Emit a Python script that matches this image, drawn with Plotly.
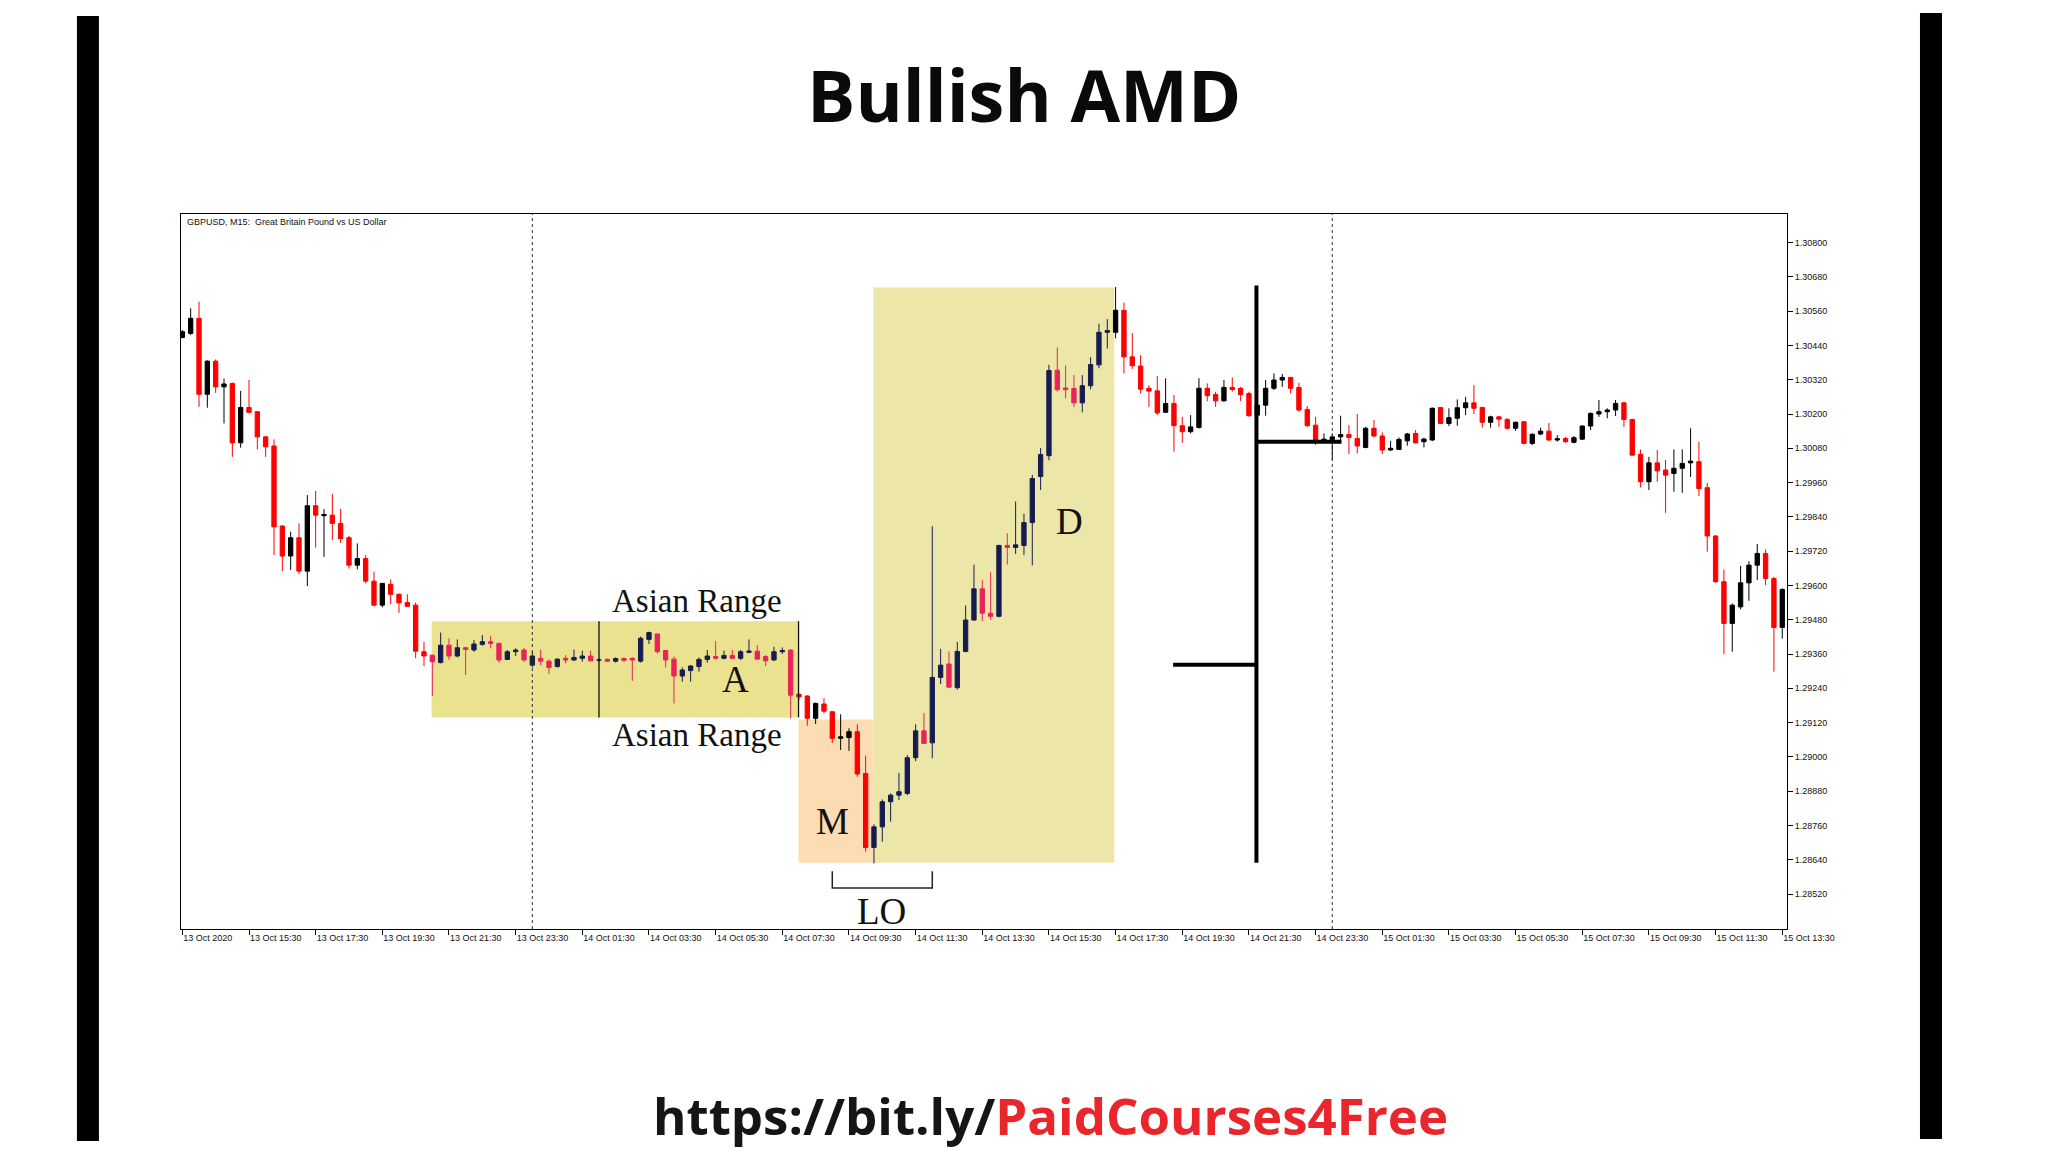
import plotly.graph_objects as go

# ---------------- data (GBPUSD M15, 13 Oct 13:30 -> 15 Oct 13:30) ----------------
opens = [
1.30468,1.30482,1.30535,1.30269,1.30385,1.30295,1.30307,1.30099,1.30223,1.30208,
1.30120,1.30088,1.29808,1.29703,1.29767,1.29650,1.29879,1.29844,1.29846,1.29817,
1.29767,1.29671,1.29694,1.29615,1.29531,1.29604,1.29569,1.29540,1.29531,1.29368,
1.29356,1.29330,1.29391,1.29353,1.29382,1.29374,1.29394,1.29403,1.29397,1.29341,
1.29368,1.29374,1.29321,1.29345,1.29335,1.29316,1.29345,1.29339,1.29345,1.29353,
1.29339,1.29341,1.29335,1.29344,1.29345,1.29335,1.29411,1.29430,1.29372,1.29342,
1.29283,1.29302,1.29316,1.29341,1.29351,1.29345,1.29355,1.29345,1.29366,1.29370,
1.29351,1.29339,1.29368,1.29374,1.29219,1.29213,1.29135,1.29185,1.29158,1.29065,
1.29068,1.29088,1.28942,1.28683,1.28755,1.28843,1.28866,1.28872,1.28997,1.29091,
1.29049,1.29278,1.29325,1.29242,1.29369,1.29479,1.29588,1.29503,1.29492,1.29740,
1.29733,1.29740,1.29820,1.29981,1.30054,1.30353,1.30291,1.30289,1.30239,1.30299,
1.30372,1.30486,1.30486,1.30563,1.30400,1.30368,1.30290,1.30281,1.30206,1.30237,
1.30159,1.30138,1.30153,1.30290,1.30268,1.30246,1.30293,1.30290,1.30272,1.30196,
1.30231,1.30290,1.30319,1.30328,1.30293,1.30216,1.30161,1.30106,1.30111,1.30120,
1.30128,1.30114,1.30083,1.30150,1.30123,1.30074,1.30076,1.30106,1.30132,1.30103,
1.30109,1.30223,1.30167,1.30185,1.30222,1.30239,1.30223,1.30171,1.30190,1.30181,
1.30150,1.30173,1.30097,1.30130,1.30140,1.30109,1.30114,1.30101,1.30112,1.30158,
1.30200,1.30208,1.30214,1.30239,1.30181,1.30059,1.29963,1.30029,1.30004,1.29992,
1.30010,1.30029,1.30033,1.29942,1.29773,1.29613,1.29467,1.29525,1.29609,1.29671,
1.29712,1.29624,1.29453]
highs = [
1.30494,1.30570,1.30593,1.30388,1.30391,1.30324,1.30310,1.30281,1.30319,1.30210,
1.30122,1.30111,1.29810,1.29788,1.29817,1.29916,1.29931,1.29867,1.29920,1.29868,
1.29773,1.29747,1.29706,1.29648,1.29609,1.29621,1.29572,1.29569,1.29540,1.29403,
1.29356,1.29435,1.29415,1.29411,1.29385,1.29409,1.29426,1.29423,1.29400,1.29374,
1.29380,1.29380,1.29368,1.29376,1.29341,1.29345,1.29356,1.29376,1.29372,1.29372,
1.29345,1.29345,1.29348,1.29348,1.29348,1.29421,1.29438,1.29432,1.29374,1.29351,
1.29313,1.29321,1.29348,1.29374,1.29405,1.29372,1.29374,1.29374,1.29411,1.29391,
1.29356,1.29385,1.29383,1.29376,1.29222,1.29216,1.29190,1.29205,1.29160,1.29149,
1.29100,1.29114,1.29004,1.28764,1.28851,1.28872,1.28944,1.29006,1.29114,1.29154,
1.29807,1.29378,1.29369,1.29402,1.29530,1.29673,1.29619,1.29646,1.29742,1.29783,
1.29894,1.29851,1.29987,1.30081,1.30372,1.30433,1.30369,1.30336,1.30336,1.30399,
1.30516,1.30532,1.30644,1.30590,1.30483,1.30406,1.30301,1.30333,1.30325,1.30266,
1.30190,1.30196,1.30325,1.30307,1.30278,1.30319,1.30328,1.30295,1.30278,1.30237,
1.30319,1.30342,1.30340,1.30330,1.30309,1.30228,1.30190,1.30132,1.30132,1.30194,
1.30161,1.30200,1.30155,1.30179,1.30136,1.30106,1.30118,1.30134,1.30144,1.30117,
1.30223,1.30223,1.30220,1.30251,1.30260,1.30301,1.30225,1.30194,1.30193,1.30185,
1.30173,1.30175,1.30132,1.30152,1.30169,1.30126,1.30120,1.30123,1.30160,1.30206,
1.30249,1.30220,1.30249,1.30243,1.30183,1.30076,1.30050,1.30074,1.30039,1.30076,
1.30076,1.30150,1.30103,1.29959,1.29776,1.29656,1.29537,1.29668,1.29685,1.29745,
1.29726,1.29630,1.29590]
lows = [
1.30465,1.30476,1.30225,1.30222,1.30274,1.30167,1.30050,1.30082,1.30202,1.30076,
1.30050,1.29706,1.29650,1.29654,1.29640,1.29598,1.29732,1.29700,1.29759,1.29749,
1.29659,1.29656,1.29607,1.29527,1.29523,1.29534,1.29504,1.29525,1.29345,1.29318,
1.29213,1.29327,1.29339,1.29348,1.29286,1.29368,1.29389,1.29380,1.29330,1.29339,
1.29353,1.29333,1.29313,1.29321,1.29290,1.29313,1.29327,1.29336,1.29333,1.29336,
1.29333,1.29333,1.29330,1.29333,1.29266,1.29330,1.29395,1.29362,1.29313,1.29187,
1.29263,1.29263,1.29298,1.29330,1.29341,1.29341,1.29341,1.29339,1.29362,1.29341,
1.29318,1.29336,1.29360,1.29135,1.29200,1.29109,1.29115,1.29152,1.29049,1.29024,
1.29021,1.28930,1.28668,1.28627,1.28703,1.28773,1.28849,1.28866,1.28985,1.29045,
1.28995,1.29255,1.29242,1.29235,1.29366,1.29476,1.29475,1.29479,1.29488,1.29673,
1.29710,1.29706,1.29670,1.29934,1.30038,1.30278,1.30255,1.30224,1.30206,1.30286,
1.30360,1.30429,1.30465,1.30342,1.30358,1.30272,1.30225,1.30196,1.30204,1.30068,
1.30099,1.30132,1.30149,1.30245,1.30225,1.30243,1.30278,1.30245,1.30190,1.30190,
1.30194,1.30284,1.30295,1.30272,1.30208,1.30155,1.30091,1.30103,1.30039,1.30097,
1.30060,1.30062,1.30080,1.30118,1.30060,1.30071,1.30074,1.30089,1.30097,1.30083,
1.30105,1.30165,1.30158,1.30159,1.30196,1.30200,1.30152,1.30152,1.30155,1.30146,
1.30141,1.30094,1.30091,1.30126,1.30106,1.30103,1.30099,1.30097,1.30109,1.30144,
1.30190,1.30185,1.30193,1.30155,1.30053,1.29943,1.29934,1.29963,1.29854,1.29928,
1.29924,1.29980,1.29913,1.29718,1.29609,1.29360,1.29368,1.29516,1.29546,1.29619,
1.29601,1.29298,1.29414]
closes = [
1.30488,1.30535,1.30269,1.30385,1.30295,1.30305,1.30099,1.30223,1.30206,1.30120,
1.30085,1.29805,1.29703,1.29767,1.29650,1.29879,1.29846,1.29848,1.29817,1.29764,
1.29671,1.29694,1.29615,1.29531,1.29607,1.29569,1.29539,1.29527,1.29370,1.29353,
1.29333,1.29391,1.29353,1.29382,1.29376,1.29395,1.29403,1.29397,1.29339,1.29368,
1.29374,1.29339,1.29353,1.29335,1.29313,1.29342,1.29339,1.29348,1.29353,1.29336,
1.29339,1.29335,1.29344,1.29338,1.29339,1.29415,1.29435,1.29368,1.29339,1.29283,
1.29304,1.29318,1.29341,1.29353,1.29345,1.29355,1.29345,1.29368,1.29370,1.29342,
1.29336,1.29368,1.29372,1.29216,1.29210,1.29135,1.29187,1.29160,1.29065,1.29070,
1.29088,1.28940,1.28683,1.28755,1.28843,1.28866,1.28878,1.28997,1.29091,1.29047,
1.29278,1.29321,1.29244,1.29369,1.29479,1.29588,1.29503,1.29492,1.29740,1.29733,
1.29742,1.29820,1.29974,1.30058,1.30352,1.30285,1.30285,1.30239,1.30299,1.30373,
1.30486,1.30492,1.30563,1.30400,1.30369,1.30287,1.30280,1.30204,1.30237,1.30159,
1.30138,1.30155,1.30290,1.30264,1.30246,1.30293,1.30286,1.30268,1.30194,1.30231,
1.30290,1.30319,1.30328,1.30290,1.30214,1.30159,1.30109,1.30112,1.30120,1.30128,
1.30118,1.30088,1.30150,1.30123,1.30074,1.30080,1.30111,1.30130,1.30099,1.30112,
1.30220,1.30167,1.30187,1.30222,1.30239,1.30220,1.30171,1.30190,1.30182,1.30150,
1.30171,1.30097,1.30129,1.30140,1.30109,1.30113,1.30103,1.30117,1.30158,1.30202,
1.30208,1.30214,1.30237,1.30181,1.30056,1.29963,1.30029,1.30001,1.29986,1.30010,
1.30027,1.30035,1.29939,1.29773,1.29613,1.29467,1.29531,1.29609,1.29671,1.29712,
1.29624,1.29453,1.29586]

bar_index = list(range(len(opens)))

x_tick_index = list(range(0, 193, 8))
x_tick_labels = [
    "13 Oct 2020", "13 Oct 15:30", "13 Oct 17:30", "13 Oct 19:30", "13 Oct 21:30",
    "13 Oct 23:30", "14 Oct 01:30", "14 Oct 03:30", "14 Oct 05:30", "14 Oct 07:30",
    "14 Oct 09:30", "14 Oct 11:30", "14 Oct 13:30", "14 Oct 15:30", "14 Oct 17:30",
    "14 Oct 19:30", "14 Oct 21:30", "14 Oct 23:30", "15 Oct 01:30", "15 Oct 03:30",
    "15 Oct 05:30", "15 Oct 07:30", "15 Oct 09:30", "15 Oct 11:30", "15 Oct 13:30"]
y_tick_values = [1.28520, 1.28640, 1.28760, 1.28880, 1.29000, 1.29120, 1.29240,
                 1.29360, 1.29480, 1.29600, 1.29720, 1.29840, 1.29960, 1.30080,
                 1.30200, 1.30320, 1.30440, 1.30560, 1.30680, 1.30800]
y_tick_labels = ["%.5f" % v for v in y_tick_values]

day_separators = [42, 138]

# phases (bar index ranges / price levels)
asian_bars = (29.92, 73.95)
asian_levels = (1.29138, 1.29475)
asian_split = 50
manip_bars = (73.95, 82.93)
manip_levels = (1.28629, 1.29131)
dist_bars = (82.93, 111.85)
dist_levels = (1.28629, 1.30643)
lo_bars = (78, 90)
tinted_ranges = [range(30, 74), range(83, 112)]

# ---------------- figure ----------------
tinted = set()
for r in tinted_ranges:
    tinted |= set(r)


def pick(keep):
    idx = [i for i in bar_index if keep(i)]
    return dict(x=idx, open=[opens[i] for i in idx], high=[highs[i] for i in idx],
                low=[lows[i] for i in idx], close=[closes[i] for i in idx])


fig = go.Figure()
fig.add_trace(go.Candlestick(
    **pick(lambda i: i not in tinted),
    increasing=dict(line=dict(color="#000000", width=1), fillcolor="#000000"),
    decreasing=dict(line=dict(color="#FF0000", width=1), fillcolor="#FF0000"),
    whiskerwidth=0, showlegend=False, hoverinfo="skip"))
fig.add_trace(go.Candlestick(
    **pick(lambda i: i in tinted),
    increasing=dict(line=dict(color="#161C50", width=1), fillcolor="#161C50"),
    decreasing=dict(line=dict(color="#E8245A", width=1), fillcolor="#E8245A"),
    whiskerwidth=0, showlegend=False, hoverinfo="skip"))

shapes = []
# highlighted phase boxes
shapes.append(dict(type="rect", xref="x", yref="y", x0=asian_bars[0], x1=asian_bars[1],
                   y0=asian_levels[0], y1=asian_levels[1], fillcolor="#EAE28F",
                   line=dict(width=0), layer="below"))
shapes.append(dict(type="rect", xref="x", yref="y", x0=manip_bars[0], x1=manip_bars[1],
                   y0=manip_levels[0], y1=manip_levels[1], fillcolor="#FCDDB3",
                   line=dict(width=0), layer="below"))
shapes.append(dict(type="rect", xref="x", yref="y", x0=dist_bars[0], x1=dist_bars[1],
                   y0=dist_levels[0], y1=dist_levels[1], fillcolor="#ECE6A9",
                   line=dict(width=0), layer="below"))
for xv in (asian_split, asian_bars[1]):
    shapes.append(dict(type="line", xref="x", yref="y", x0=xv, x1=xv,
                       y0=asian_levels[0], y1=asian_levels[1],
                       line=dict(color="#111111", width=1.3)))
# day separators
for xv in day_separators:
    shapes.append(dict(type="line", xref="x", yref="paper", x0=xv, x1=xv, y0=0, y1=1,
                       line=dict(color="#333333", width=1, dash="dot")))
# thick black markup lines
shapes.append(dict(type="line", xref="x", yref="y", x0=128.9, x1=128.9, y0=1.28629, y1=1.30650,
                   line=dict(color="#000000", width=4)))
shapes.append(dict(type="line", xref="x", yref="y", x0=118.9, x1=128.9, y0=1.29322, y1=1.29322,
                   line=dict(color="#000000", width=4)))
shapes.append(dict(type="line", xref="x", yref="y", x0=128.9, x1=139.1, y0=1.30103, y1=1.30103,
                   line=dict(color="#000000", width=4)))
# LO bracket
shapes.append(dict(type="path", xref="x", yref="y",
                   path=f"M {lo_bars[0]},1.28600 L {lo_bars[0]},1.28541 L {lo_bars[1]},1.28541 L {lo_bars[1]},1.28600",
                   line=dict(color="#222222", width=1.5)))
# page side bars
shapes.append(dict(type="rect", xref="paper", yref="paper", x0=-0.0648, x1=-0.0511,
                   y0=-0.2965, y1=1.277, fillcolor="#000000", line=dict(width=0)))
shapes.append(dict(type="rect", xref="paper", yref="paper", x0=1.0828, x1=1.0965,
                   y0=-0.2937, y1=1.281, fillcolor="#000000", line=dict(width=0)))

serif = dict(family="Liberation Serif", color="#111111")
annotations = [
    dict(text="Asian Range", x=61.8, y=1.29545, xref="x", yref="y", showarrow=False,
         font=dict(size=33, **serif)),
    dict(text="Asian Range", x=61.8, y=1.29075, xref="x", yref="y", showarrow=False,
         font=dict(size=33, **serif)),
    dict(text="A", x=66.4, y=1.29272, xref="x", yref="y", showarrow=False,
         font=dict(size=37, **serif)),
    dict(text="M", x=78.0, y=1.28774, xref="x", yref="y", showarrow=False,
         font=dict(size=37, **serif)),
    dict(text="D", x=106.5, y=1.29825, xref="x", yref="y", showarrow=False,
         font=dict(size=37, **serif)),
    dict(text="LO", x=83.9, y=1.28458, xref="x", yref="y", showarrow=False,
         font=dict(size=37, **serif)),
    dict(text="GBPUSD, M15:  Great Britain Pound vs US Dollar", x=0.0025, y=0.9888,
         xref="paper", yref="paper", xanchor="left", yanchor="middle", showarrow=False,
         font=dict(size=9, family="Liberation Sans", color="#111111")),
    dict(text="Bullish AMD", x=0.5249, y=1.168, xref="paper", yref="paper",
         xanchor="center", yanchor="middle", showarrow=False,
         font=dict(size=72, family="Open Sans", weight="bold", color="#0A0A0A")),
    dict(text="https://bit.ly/<span style='color:#E8262B'>PaidCourses4Free</span>",
         x=0.5411, y=-0.2600, xref="paper", yref="paper", xanchor="center",
         yanchor="middle", showarrow=False,
         font=dict(size=51, family="Open Sans", weight="bold", color="#151515")),
]

# the page body adds an 8px offset, so the figure is 8px smaller and margins shifted
fig.update_layout(
    width=2040, height=1144,
    margin=dict(l=173, r=261, t=206, b=223),
    paper_bgcolor="#FFFFFF", plot_bgcolor="#FFFFFF",
    showlegend=False, boxgap=0.28, boxgroupgap=0.28, boxmode="overlay",
    shapes=shapes, annotations=annotations,
    xaxis=dict(range=[-0.16, 192.57], tickmode="array", tickvals=x_tick_index,
               ticktext=x_tick_labels, ticks="outside", ticklen=5, tickcolor="#000000",
               ticklabelposition="outside right",
               tickfont=dict(size=9, family="Liberation Sans", color="#111111"),
               showgrid=False, zeroline=False, showline=True, linecolor="#000000",
               linewidth=1, mirror=True, rangeslider=dict(visible=False)),
    yaxis=dict(range=[1.283975, 1.30900], side="right", tickmode="array",
               tickvals=y_tick_values, ticktext=y_tick_labels, ticks="outside",
               ticklen=5, tickcolor="#000000",
               tickfont=dict(size=9, family="Liberation Sans", color="#111111"),
               showgrid=False, zeroline=False, showline=True, linecolor="#000000",
               linewidth=1, mirror=True),
)

fig.write_html("out.html")
